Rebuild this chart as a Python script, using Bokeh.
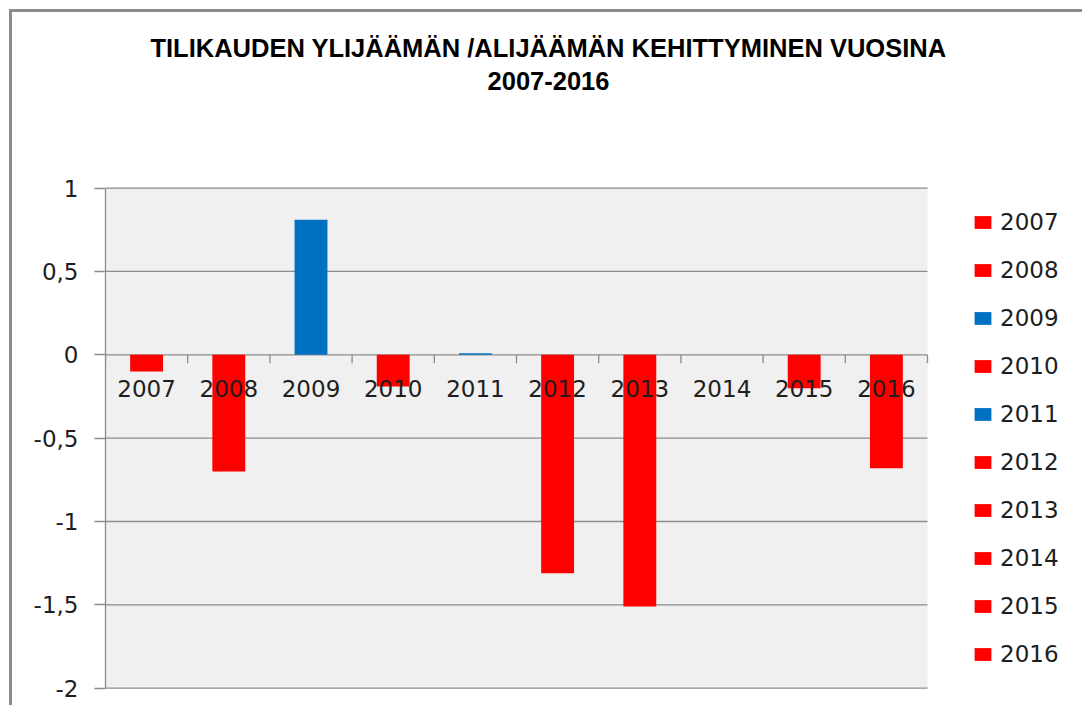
import numpy as np
from bokeh.plotting import figure
from bokeh.models import Range1d, FixedTicker, Label, Legend, LegendItem, ColumnDataSource
from bokeh.core.properties import value
from bokeh.embed import file_html
from bokeh.resources import INLINE

# ---- data ----
years = ["2007", "2008", "2009", "2010", "2011", "2012", "2013", "2014", "2015", "2016"]
values = [-0.10, -0.70, 0.81, -0.19, 0.01, -1.31, -1.51, 0.0, -0.20, -0.68]
yticks = [-2, -1.5, -1, -0.5, 0, 0.5, 1]
title_lines = ["TILIKAUDEN YLIJÄÄMÄN /ALIJÄÄMÄN KEHITTYMINEN VUOSINA", "2007-2016"]

POS_COLOR = "#0070C0"
NEG_COLOR = "#FF0000"
TEXT = "#1E1E1E"
GRID = "#8C8C8C"
PLOT_BG = "#F0F0F0"
FONT = "DejaVu Sans"

# ---- layout (pixels) ----
OFF = 12                      # canvas origin on the page (margin 9 + border 3)
W, H = 1085 - OFF, 708 - OFF
FRAME_LEFT = 105 - OFF        # y axis line position on canvas
AREA_RIGHT = 927 - OFF        # right edge of plot area on canvas
AREA_TOP = 187.6 - OFF        # y = top tick
AREA_BOTTOM = 687.7 - OFF     # y = bottom tick

n = len(years)
ymin, ymax = min(yticks), max(yticks)
px_x = (AREA_RIGHT - FRAME_LEFT) / n
px_y = (AREA_BOTTOM - AREA_TOP) / (ymax - ymin)
x_end = (W - FRAME_LEFT) / px_x
y_top = ymax + AREA_TOP / px_y
y_bot = ymin - (H - AREA_BOTTOM) / px_y

p = figure(width=W, height=H,
           x_range=Range1d(0, x_end), y_range=Range1d(y_bot, y_top),
           x_axis_type=None, output_backend="svg", toolbar_location=None,
           min_border_left=FRAME_LEFT, min_border_right=0, min_border_top=0, min_border_bottom=0,
           background_fill_color="white", border_fill_color="white", outline_line_color=None)
p.styles = {"margin-left": "9px", "margin-top": "9px",
            "border-left": "3px solid #8C8C8C", "border-top": "3px solid #8C8C8C"}
p.xgrid.visible = False
p.ygrid.visible = False

centers = np.arange(n) + 0.5
colors = [POS_COLOR if v > 0 else NEG_COLOR for v in values]
src = ColumnDataSource(dict(x=centers, top=values, color=colors, year=years))

# plot area background and gridlines
p.quad(left=[0], right=[n], bottom=[ymin], top=[ymax], fill_color=PLOT_BG, line_color=None)
p.segment(x0=np.zeros(len(yticks)), y0=yticks, x1=np.full(len(yticks), n), y1=yticks,
          line_color=GRID, line_width=1.3)

# y axis
p.yaxis.ticker = FixedTicker(ticks=yticks)
p.yaxis.bounds = (ymin, ymax)
p.yaxis.major_label_overrides = {t: f"{t:g}".replace(".", ",") for t in yticks}
p.yaxis.axis_line_color = GRID
p.yaxis.axis_line_width = 1.3
p.yaxis.major_tick_line_color = GRID
p.yaxis.major_tick_line_width = 1.3
p.yaxis.major_tick_out = 11
p.yaxis.major_tick_in = 0
p.yaxis.minor_tick_out = 0
p.yaxis.minor_tick_in = 0
p.yaxis.major_label_text_font = FONT
p.yaxis.major_label_text_font_size = "23px"
p.yaxis.major_label_text_color = TEXT
p.yaxis.major_label_standoff = 16

# bars
r = p.vbar(x="x", top="top", bottom=0, width=0.4, fill_color="color", line_color=None, source=src)

# category axis at zero
bounds = np.arange(n + 1)
p.segment(x0=bounds, y0=np.zeros(n + 1), x1=bounds, y1=np.full(n + 1, -8.4 / px_y),
          line_color=GRID, line_width=1.3)
p.text(x=centers, y=np.zeros(n), text=years, text_align="center", text_baseline="middle",
       y_offset=34, text_font=value(FONT), text_font_size=value("23px"), text_color=TEXT)

# title (screen units, relative to the frame's bottom-left)
for line, ty in zip(title_lines, [H - (47.8 - OFF), H - (80.5 - OFF)]):
    p.add_layout(Label(x=548 - 105, y=ty, x_units="screen", y_units="screen", text=line,
                       text_align="center", text_baseline="middle", text_font="Liberation Sans",
                       text_font_style="bold", text_font_size="25.5px", text_color="black"))

# legend
items = [LegendItem(label=value(y), renderers=[r], index=i) for i, y in enumerate(years)]
legend = Legend(items=items, location=(972 - 105, 708 - 669), orientation="vertical",
                glyph_width=21, glyph_height=16, label_height=30, spacing=18,
                padding=0, margin=0, border_line_color=None, background_fill_alpha=0,
                label_text_font=FONT, label_text_font_size="23px", label_text_color=TEXT,
                label_standoff=7)
p.add_layout(legend)

open("out.html", "w").write(file_html(p, INLINE))
